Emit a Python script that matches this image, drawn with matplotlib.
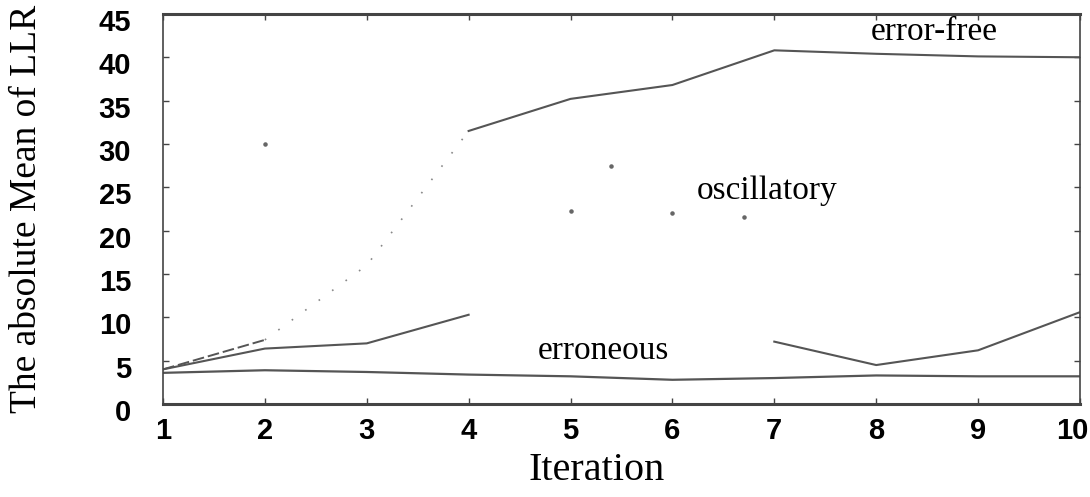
import numpy as np
import matplotlib.pyplot as plt
from matplotlib.transforms import ScaledTranslation

# iterations on the x axis
iterations = np.arange(1, 11)

# the three curves (NaN = segment missing in the scan)
error_free = [4.0, 7.4, 16.0, 31.5, 35.2, 36.8, 40.8, 40.4, 40.1, 40.0]
middle = [4.0, 6.4, 7.0, 10.3, np.nan, np.nan, 7.2, 4.5, 6.2, 10.6]
erroneous = [3.6, 3.9, 3.7, 3.4, 3.2, 2.8, 3.0, 3.3, 3.2, 3.2]

# stray points of the oscillatory curve that survived the scan
osc_x = [2.0, 5.0, 5.4, 6.0, 6.7]
osc_y = [30.0, 22.3, 27.5, 22.0, 21.6]

y_ticks = [0, 5, 10, 15, 20, 25, 30, 35, 40, 45]

fig = plt.figure(figsize=(10.9, 4.97), dpi=100)
ax = fig.add_axes([0.1495, 0.187, 0.8413, 0.785])

line_col = '#555555'
# error-free: dashed start, faint dotted climb, then solid
ax.plot(iterations[:2], error_free[:2], color=line_col, lw=1.4, linestyle=(0, (6, 2)))
ax.plot(iterations[1:4], error_free[1:4], color='#888888', lw=1.2, linestyle=(0, (1, 9)))
ax.plot(iterations[3:], error_free[3:], color=line_col, lw=1.5)
ax.plot(iterations, middle, color=line_col, lw=1.5)
ax.plot(iterations, erroneous, color=line_col, lw=1.6)
ax.scatter(osc_x, osc_y, s=5, color='#666666', zorder=3)

ax.text(8.57, 42.9, 'error-free', family='Liberation Serif', fontsize=24,
        ha='center', va='center')
ax.text(6.93, 24.6, 'oscillatory', family='Liberation Serif', fontsize=24,
        ha='center', va='center')
ax.text(5.32, 6.2, 'erroneous', family='Liberation Serif', fontsize=24,
        ha='center', va='center')

ax.set_xlim(1, 10)
ax.set_ylim(0, 45)
ax.set_xticks(iterations)
ax.set_yticks(y_ticks)
ax.tick_params(direction='in', top=True, right=True, length=4, width=1,
               colors='#444444', labelcolor='black')
ax.tick_params(axis='x', pad=9)
ax.tick_params(axis='y', pad=23)
for lab in ax.get_xticklabels() + ax.get_yticklabels():
    lab.set_family('Liberation Sans')
    lab.set_fontweight('bold')
    lab.set_fontsize(21)
# y tick labels sit a little below their ticks in the scan
shift = ScaledTranslation(0, -0.06, fig.dpi_scale_trans)
for lab in ax.get_yticklabels():
    lab.set_transform(lab.get_transform() + shift)
# the last x label is pulled in from the edge
xlabs = ax.get_xticklabels()
xlabs[-1].set_transform(xlabs[-1].get_transform()
                        + ScaledTranslation(-0.08, 0, fig.dpi_scale_trans))

for name, sp in ax.spines.items():
    sp.set_color('#444444')
    sp.set_linewidth(2.2 if name in ('top', 'bottom') else 1.2)

fig.text(0.547, 0.054, 'Iteration', family='Liberation Serif', fontsize=29,
         ha='center', va='center')
fig.text(0.025, 0.58, 'The absolute Mean of LLR', family='Liberation Serif',
         fontsize=27, rotation=90, ha='center', va='center')

fig.savefig('out.png', dpi=100)
